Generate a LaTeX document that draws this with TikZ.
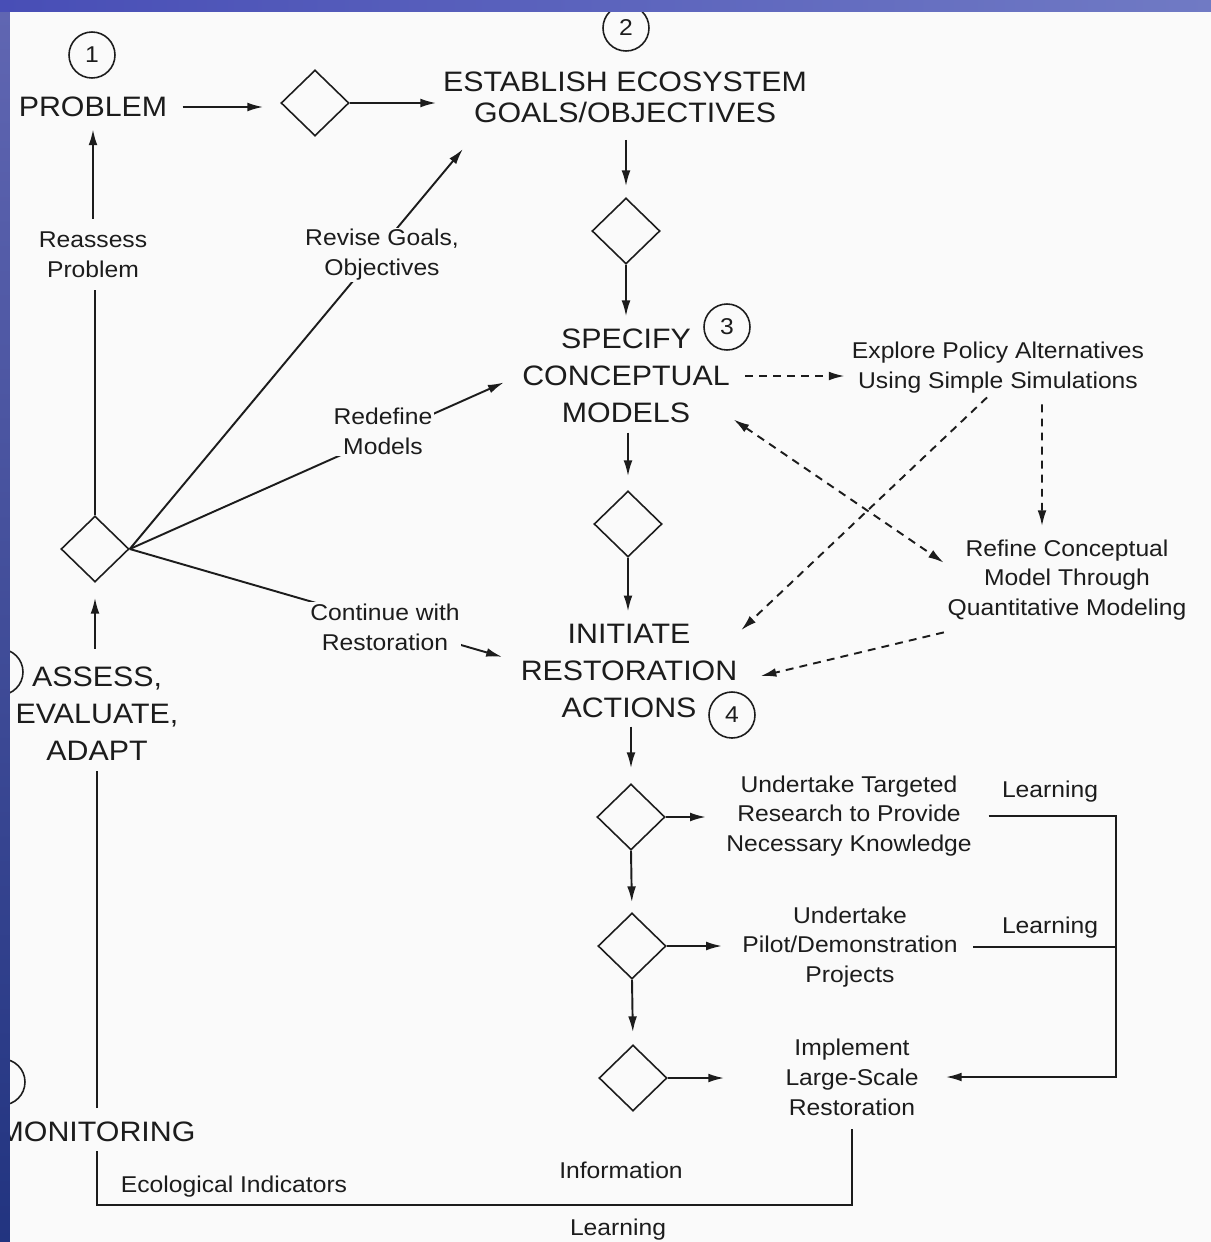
\documentclass[tikz,border=0pt]{standalone}
\usepackage{fontspec}
\setmainfont[FakeStretch=1.08]{Liberation Sans}
\usetikzlibrary{arrows.meta,shapes}
\definecolor{ink}{RGB}{28,28,28}
\definecolor{paper}{RGB}{250,250,250}
\definecolor{bandblue}{RGB}{72,78,182}
\definecolor{bandlight}{RGB}{112,122,196}
\definecolor{striptop}{RGB}{96,102,178}
\definecolor{stripmid}{RGB}{74,118,160}
\definecolor{stripbot}{RGB}{34,52,128}
\tikzstyle{bigtext}=[text=ink, inner sep=2pt, align=center, font=\fontsize{16}{21}\selectfont]
\tikzstyle{smalltext}=[text=ink, inner sep=2pt, align=center, font=\fontsize{13}{17}\selectfont]
\tikzstyle{cutlabel}=[smalltext, fill=paper, inner sep=1pt]
\tikzstyle{decbox}=[diamond, draw=ink, line width=0.9pt, minimum width=1.36cm, minimum height=1.32cm, inner sep=0pt]
\tikzstyle{numcirc}=[circle, draw=ink, line width=0.9pt, minimum size=0.92cm, inner sep=0pt, text=ink, font=\fontsize{13}{15}\selectfont]
\tikzstyle{line}=[-, line width=1.1pt, draw=ink]
\tikzstyle{aline}=[line, ->]
\tikzstyle{sline}=[line, dash pattern=on 4.5pt off 3.5pt, ->]

\begin{document}
\begin{tikzpicture}[x=0.02cm, y=-0.02cm, >={Latex[length=9pt,width=5pt]}]
\useasboundingbox (0,0) rectangle (1211,1242);
\fill[bandblue] (0,0) rectangle (1211,1242);
\shade[left color=bandblue, right color=bandlight] (0,0) rectangle (1211,12);
\shade[top color=striptop, middle color=stripmid, bottom color=stripbot] (0,12) rectangle (10,1242);
\fill[paper] (10,12) rectangle (1211,1242);

\begin{scope}
\clip (10,12) rectangle (1211,1242);

    \node (n1) [numcirc] at (92,55) {1};
    \node (prob) [bigtext] at (93,107) {PROBLEM};
    \node (d1) [decbox] at (315,103) {};
    \node (n2) [numcirc] at (626,28) {2};
    \node (goals) [bigtext, font=\fontsize{16}{17.6}\selectfont] at (625,97) {ESTABLISH ECOSYSTEM\\GOALS/OBJECTIVES};
    \node (d2) [decbox] at (626,231) {};
    \node (spec) [bigtext] at (626,376) {SPECIFY\\CONCEPTUAL\\MODELS};
    \node (n3) [numcirc] at (727,327) {3};
    \node (d3) [decbox] at (628,524) {};
    \node (init) [bigtext] at (629,671) {INITIATE\\RESTORATION\\ACTIONS};
    \node (n4) [numcirc] at (732,715) {4};

	\node (d4) [decbox] at (631,817) {};
	\node (d5) [decbox] at (632,946) {};
	\node (d6) [decbox] at (633,1078) {};
	\node (research) [smalltext] at (849,816) {Undertake Targeted\\Research to Provide\\Necessary Knowledge};
	\node (pilot) [smalltext] at (850,947) {Undertake\\Pilot/Demonstration\\Projects};
	\node (implement) [smalltext] at (852,1077) {Implement\\Large-Scale\\Restoration};
	\node (learn1) [smalltext] at (1050,792) {Learning};
	\node (learn2) [smalltext] at (1050,928) {Learning};

	\node (explore) [smalltext] at (998,368) {Explore Policy Alternatives\\Using Simple Simulations};
	\node (refine) [smalltext] at (1067,580) {Refine Conceptual\\Model Through\\Quantitative Modeling};

	\node (d7) [decbox] at (95,549) {};
	\node (reassess) [smalltext] at (93,255) {Reassess\\Problem};
	\node (assess) [bigtext] at (97,714) {ASSESS,\\EVALUATE,\\ADAPT};
	\node (n5) [numcirc] at (0,672) {};
	\node (monitor) [bigtext] at (97,1132) {MONITORING};
	\node (n6) [numcirc] at (2,1082) {};
	\node (eco) [smalltext] at (234,1187) {Ecological Indicators};
	\node (info) [smalltext] at (621,1170) {Information};
	\node (learnb) [smalltext] at (618,1230) {Learning};

	\coordinate (lcorner) at (1116,816);
	\coordinate (lbot) at (97,1205);
	\coordinate (gtip) at (463,149);
%Lines ..

   \draw[aline, shorten <=0.23cm, shorten >=0.34cm] (prob.east) -- (prob.east -| d1.west);
   \draw[aline, shorten >=0.06cm] (d1.east) -- (d1.east -| goals.west);
   \draw[aline, shorten <=0.27cm, shorten >=0.22cm] (goals.south -| d2.north) -- (d2.north);
   \draw[aline, shorten >=0.18cm] (d2.south) -- (d2.south |- spec.north);
   \draw[aline, shorten <=0.12cm, shorten >=0.28cm] (spec.south -| d3.north) -- (d3.north);
   \draw[aline, shorten >=0.18cm] (d3.south) -- (d3.south |- init.north);
   \draw[aline, shorten <=0.1cm, shorten >=0.3cm] (init.south -| d4.north) -- (d4.north);
   \draw[aline, shorten >=0.2cm] (d4.south) -- (d5.north);
   \draw[aline, shorten >=0.24cm] (d5.south) -- (d6.north);

\draw[aline, shorten >=0.33cm] (d4.east) -- (d4.east -| research.west);
\draw[aline, shorten >=0.33cm] (d5.east) -- (d5.east -| pilot.west);
\draw[aline, shorten >=1.15cm] (d6.east) -- (d6.east -| implement.west);

%learning loop
\draw[aline, shorten <=0.26cm, shorten >=0.47cm] (research.east) -- (lcorner) |- (implement.east);
\draw[line, shorten <=0.24cm] (pilot.east) -- (pilot.east -| lcorner);
\draw[line, shorten <=0.2cm, shorten >=0.1cm] (implement.south) |- (lbot) -- (monitor.south);
\draw[line, shorten <=0.2cm, shorten >=0.12cm] (monitor.north) -- (assess.south);
\draw[aline, shorten <=0.29cm, shorten >=0.3cm] (assess.north -| d7.south) -- (d7.south);
\draw[line, shorten >=0.17cm] (d7.north) -- (d7.north |- reassess.south);
\draw[aline, shorten <=0.19cm, shorten >=0.17cm] (reassess.north) -- (prob.south);

%feedback from the assessment diamond
\draw[aline] (d7.east) -- (gtip);
\draw[aline, shorten >=0.32cm] (d7.east) -- (spec.west);
\draw[aline, shorten >=0.31cm] (d7.east) -- (init.175);

%modeling
\draw[sline, shorten <=0.23cm, shorten >=0.07cm] (spec.east) -- (spec.east -| explore.west);
\draw[sline, shorten <=0.14cm, shorten >=0.19cm] ([xshift=0.88cm]explore.south) -- ([xshift=-0.5cm]refine.north);
\draw[sline] ([xshift=-0.22cm]explore.south) -- (init.20);
\draw[sline, <->] (spec.-22) -- (refine.172);
\draw[sline, shorten >=0.4cm] ([yshift=-0.16cm]refine.south west) -- (init.-5);

	\node (revise) [cutlabel] at (382,255) {Revise Goals,\\Objectives};
	\node (redefine) [cutlabel] at (383,431) {Redefine\\Models};
	\node (cont) [cutlabel] at (385,627) {Continue with\\Restoration};
\end{scope}
\end{tikzpicture}
\end{document}
